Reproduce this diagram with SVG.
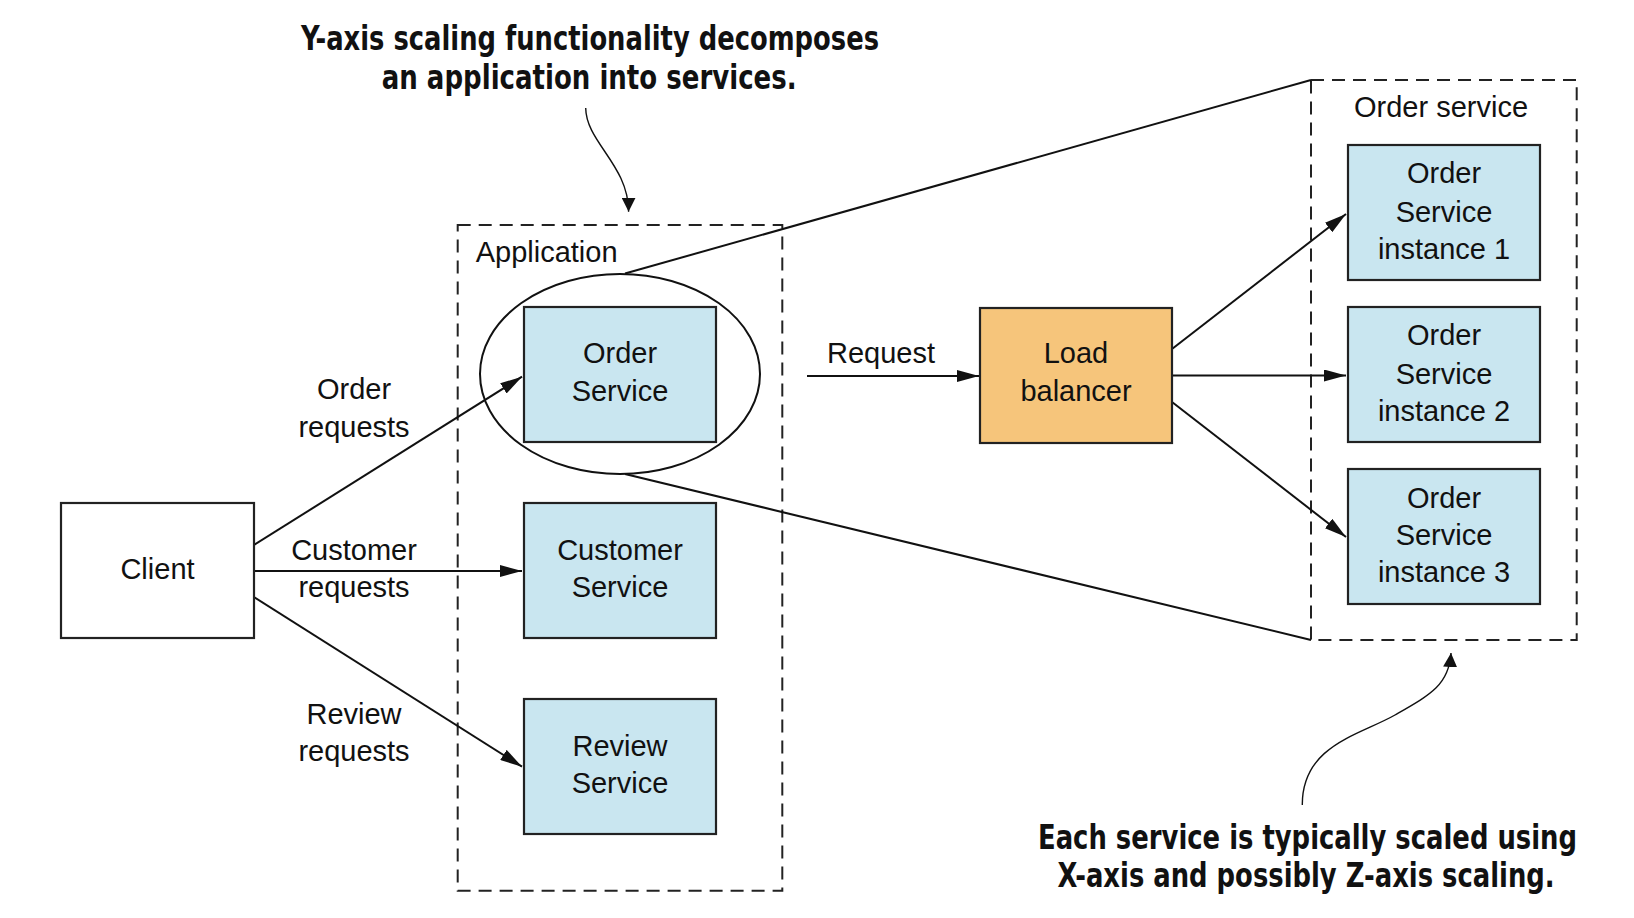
<svg xmlns="http://www.w3.org/2000/svg" width="1634" height="918" viewBox="0 0 1634 918">
<style>
  .lbl { font-family: "Liberation Sans", Arial, sans-serif; font-size: 29px; fill: #111; }
  .mid { text-anchor: middle; }
  .note { font-family: "Liberation Sans Narrow", "DejaVu Sans Condensed", "Liberation Sans", sans-serif; font-weight: bold; font-size: 34px; fill: #111; }
  .box { stroke: #222; stroke-width: 2.2; }
  .svc { fill: #C9E6F0; }
  .lb { fill: #F6C57B; }
  .client { fill: #fff; }
  .dash { fill: none; stroke: #222; stroke-width: 2; stroke-dasharray: 13 8; }
  .conn { fill: none; stroke: #111; stroke-width: 2; }
  .arr { marker-end: url(#ah); }
  .carr { fill: none; stroke: #111; stroke-width: 1.4; marker-end: url(#ah2); }
</style>
<defs>
  <marker id="ah" markerUnits="userSpaceOnUse" markerWidth="22" markerHeight="12" refX="22" refY="6" orient="auto">
    <path d="M0,0 L22,6 L0,12 z" fill="#111"/>
  </marker>
  <marker id="ah2" markerUnits="userSpaceOnUse" markerWidth="14" markerHeight="14" refX="14" refY="7" orient="auto">
    <path d="M0,0 L14,7 L0,14 z" fill="#111"/>
  </marker>
</defs>
<rect width="1634" height="918" fill="#fff"/>

<g id="application">
  <rect class="dash" x="457.7" y="225" width="324.6" height="665.7"/>
  <text class="lbl" x="475.7" y="261.7">Application</text>
</g>

<g id="order-service-group">
  <rect class="dash" x="1311" y="80" width="265.7" height="560"/>
  <text class="lbl mid" x="1441" y="116.7">Order service</text>
</g>

<g id="connectors">
  <line class="conn" x1="625" y1="273.5" x2="1311" y2="80"/>
  <line class="conn" x1="625" y1="474" x2="1311" y2="640"/>
  <line class="conn arr" x1="254" y1="545" x2="522" y2="376.7"/>
  <line class="conn arr" x1="254" y1="571" x2="522" y2="571"/>
  <line class="conn arr" x1="254" y1="597" x2="522" y2="766.7"/>
  <line class="conn arr" x1="807" y1="376" x2="979" y2="376"/>
  <line class="conn arr" x1="1172" y1="349" x2="1346" y2="214"/>
  <line class="conn arr" x1="1172" y1="375.5" x2="1346" y2="375.5"/>
  <line class="conn arr" x1="1172" y1="402" x2="1346" y2="537"/>
  <path class="carr" d="M585.7,108 C586,142 628.5,165 628.6,211.7"/>
  <path class="carr" d="M1302.3,805 C1302,745 1360,735 1395,715 C1430,695 1449,685 1451,653"/>
  <text class="lbl mid" x="354" y="399.3">Order</text>
  <text class="lbl mid" x="354" y="436.7">requests</text>
  <text class="lbl mid" x="354" y="559.5">Customer</text>
  <text class="lbl mid" x="354" y="597">requests</text>
  <text class="lbl mid" x="354" y="723.5">Review</text>
  <text class="lbl mid" x="354" y="760.5">requests</text>
  <text class="lbl mid" x="881" y="362.7">Request</text>
</g>

<g id="zoom-ellipse">
  <ellipse cx="620" cy="374" rx="140" ry="100" fill="none" stroke="#111" stroke-width="2"/>
</g>

<g id="client">
  <rect class="box client" x="61" y="503" width="193" height="135"/>
  <text class="lbl mid" x="157.5" y="579">Client</text>
</g>

<g id="order-service">
  <rect class="box svc" x="524" y="307" width="192" height="135"/>
  <text class="lbl mid" x="620" y="363.3">Order</text>
  <text class="lbl mid" x="620" y="401">Service</text>
</g>

<g id="customer-service">
  <rect class="box svc" x="524" y="503" width="192" height="135"/>
  <text class="lbl mid" x="620" y="560">Customer</text>
  <text class="lbl mid" x="620" y="597">Service</text>
</g>

<g id="review-service">
  <rect class="box svc" x="524" y="699" width="192" height="135"/>
  <text class="lbl mid" x="620" y="755.7">Review</text>
  <text class="lbl mid" x="620" y="793">Service</text>
</g>

<g id="load-balancer">
  <rect class="box lb" x="980" y="308" width="192" height="135"/>
  <text class="lbl mid" x="1076" y="363.3">Load</text>
  <text class="lbl mid" x="1076" y="400.7">balancer</text>
</g>

<g id="instance-1">
  <rect class="box svc" x="1348" y="145" width="192" height="135"/>
  <text class="lbl mid" x="1444" y="183.3">Order</text>
  <text class="lbl mid" x="1444" y="221.7">Service</text>
  <text class="lbl mid" x="1444" y="259.3">instance 1</text>
</g>

<g id="instance-2">
  <rect class="box svc" x="1348" y="307" width="192" height="135"/>
  <text class="lbl mid" x="1444" y="345.3">Order</text>
  <text class="lbl mid" x="1444" y="383.7">Service</text>
  <text class="lbl mid" x="1444" y="421.3">instance 2</text>
</g>

<g id="instance-3">
  <rect class="box svc" x="1348" y="469" width="192" height="135"/>
  <text class="lbl mid" x="1444" y="507.7">Order</text>
  <text class="lbl mid" x="1444" y="545">Service</text>
  <text class="lbl mid" x="1444" y="582.3">instance 3</text>
</g>

<g id="note-y-axis">
  <text class="note" transform="translate(301,50) scale(0.75,1)" x="0" y="0" textLength="770.7" lengthAdjust="spacingAndGlyphs">Y-axis scaling functionality decomposes</text>
  <text class="note" transform="translate(381.7,88.5) scale(0.75,1)" x="0" y="0" textLength="553.3" lengthAdjust="spacingAndGlyphs">an application into services.</text>
</g>

<g id="note-x-axis">
  <text class="note" transform="translate(1038,849) scale(0.75,1)" x="0" y="0" textLength="718.7" lengthAdjust="spacingAndGlyphs">Each service is typically scaled using</text>
  <text class="note" transform="translate(1057.6,887) scale(0.75,1)" x="0" y="0" textLength="662.7" lengthAdjust="spacingAndGlyphs">X-axis and possibly Z-axis scaling.</text>
</g>
</svg>
